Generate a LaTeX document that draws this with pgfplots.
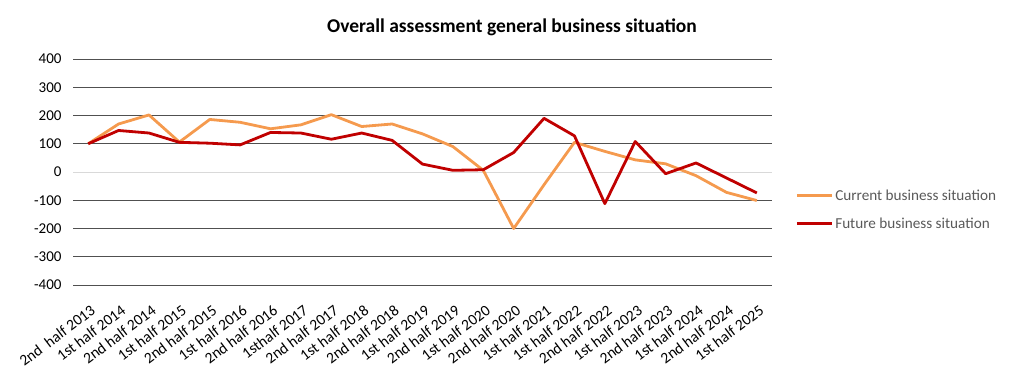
\documentclass[border=0pt]{standalone}
\usepackage{pgfplots}
\pgfplotsset{compat=1.18}
\usepackage{fontspec}
\setmainfont{Carlito}
\definecolor{curr}{HTML}{F59A4E}
\definecolor{fut}{HTML}{C00000}
\definecolor{gridd}{HTML}{505050}
\definecolor{gridl}{HTML}{D9D9D9}
\definecolor{legtxt}{HTML}{595959}
\begin{document}
\begin{tikzpicture}[x=1pt,y=1pt]
\useasboundingbox (0,0) rectangle (1024,381);
\node[font=\fontsize{19.5}{22}\selectfont\bfseries] at (512,354) {Overall assessment general business situation};
\begin{axis}[
  at={(73pt,96pt)}, anchor=south west,
  scale only axis, width=699pt, height=226pt,
  xmin=-0.5, xmax=22.5, ymin=-400, ymax=400,
  xtick={0,...,22},
  xticklabels={2nd\ \ half 2013,1st half 2014,2nd half 2014,1st half 2015,2nd half 2015,1st half 2016,2nd half 2016,1sthalf 2017,2nd half 2017,1st half 2018,2nd half 2018,1st half 2019,2nd half 2019,1st half 2020,2nd half 2020,1st half 2021,1st half 2022,2nd half 2022,1st half 2023,2nd half 2023,1st half 2024,2nd half 2024,1st half 2025},
  xticklabel style={rotate=37, anchor=north east, font=\fontsize{15.5}{17}\selectfont, inner sep=1pt, yshift=-15pt, xshift=-9pt},
  ytick={-400,-300,-200,-100,100,200,300,400},
  extra y ticks={0},
  extra y tick style={grid style={gridl, line width=1pt}},
  yticklabel style={font=\fontsize{15}{17}\selectfont, xshift=-8pt},
  /pgf/number format/assume math mode=true,
  ymajorgrids, grid style={gridd, line width=1pt},
  axis line style={draw=none}, tick style={draw=none},
  legend style={at={(1.033,0.334)}, anchor=west, draw=none, fill=none,
    font=\fontsize{15.2}{17}\selectfont, text=legtxt, row sep=12pt, inner sep=0pt},
  legend cell align=left,
  legend image code/.code={\draw[#1, line width=3pt] (0pt,0pt) -- (35pt,0pt);},
]
\addplot[curr, line width=2.8pt, line join=round] coordinates {
(0,100) (1,170) (2,202) (3,106) (4,186) (5,176) (6,153) (7,167) (8,203) (9,161) (10,170)
(11,135) (12,90) (13,6) (14,-200) (15,-45) (16,105) (17,73) (18,43) (19,29) (20,-13) (21,-72) (22,-101)};
\addlegendentry{Current business situation}
\addplot[fut, line width=2.8pt, line join=round] coordinates {
(0,100) (1,147) (2,138) (3,105) (4,102) (5,96) (6,140) (7,138) (8,116) (9,138) (10,112)
(11,28) (12,6) (13,8) (14,69) (15,190) (16,128) (17,-112) (18,108) (19,-6) (20,32) (21,-21) (22,-74)};
\addlegendentry{Future business situation}
\end{axis}
\end{tikzpicture}
\end{document}
